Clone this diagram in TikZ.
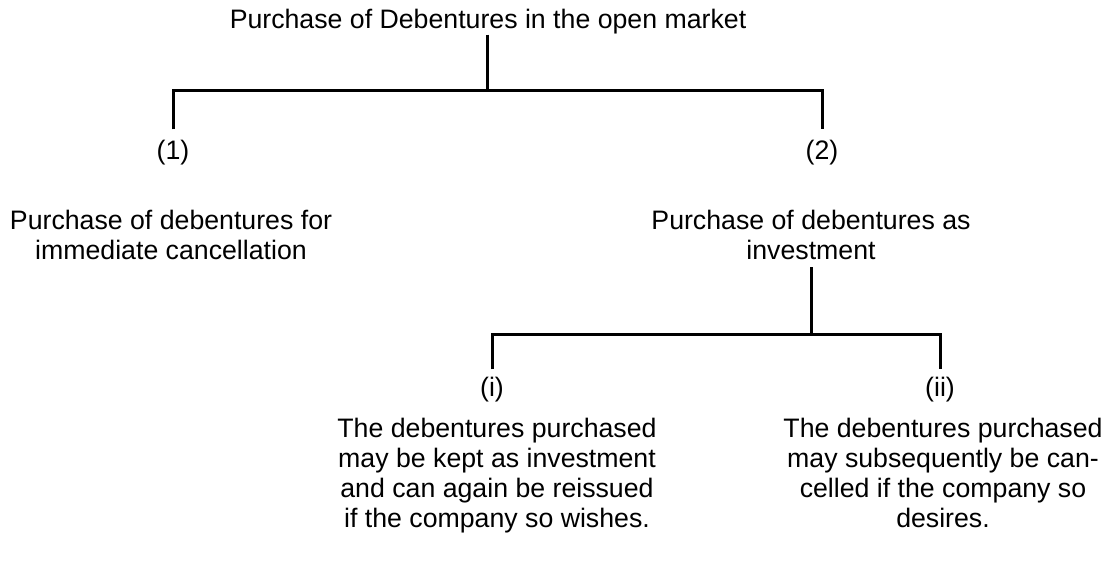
\documentclass[tikz,border=0pt]{standalone}
\usepackage{fontspec}
\setmainfont{Liberation Sans}
\usetikzlibrary{positioning}

\tikzset{
  txt/.style={font=\fontsize{26.7}{30}\selectfont, align=center, inner sep=0pt},
  branch/.style={line width=3pt},
}

\begin{document}
\begin{tikzpicture}[x=1pt,y=-1pt]
\useasboundingbox (0,0) rectangle (1114,577);

% Top level
\node[txt] (title) at (488,22) {Purchase of Debentures in the open market};
\coordinate (top) at (487,91);
\node[txt] (one) at (173,153) {(1)};
\node[txt] (two) at (822,153) {(2)};

\draw[branch] (title.south -| top) -- (top);
\draw[branch] ([yshift=11pt]one.north) |- (top) -| ([yshift=11pt]two.north);

% Second level
\node[txt] (cancel) at (171,235) {Purchase of debentures for\\immediate cancellation};
\node[txt] (invest) at (811,235) {Purchase of debentures as\\investment};
\coordinate (mid) at (811,335);
\node[txt] (first) at (492,390) {(i)};
\node[txt] (second) at (940,390) {(ii)};

\draw[branch] ([yshift=-7pt]invest.south) -- (mid);
\draw[branch] ([yshift=8pt]first.north) |- (mid) -| ([yshift=8pt]second.north);

% Bottom texts
\node[txt, anchor=north] (keep) at (497,418) {The debentures purchased\\may be kept as investment\\and can again be reissued\\if the company so wishes.};
\node[txt, anchor=north] (later) at (943,418) {The debentures purchased\\may subsequently be can-\\celled if the company so\\desires.};

\end{tikzpicture}
\end{document}
